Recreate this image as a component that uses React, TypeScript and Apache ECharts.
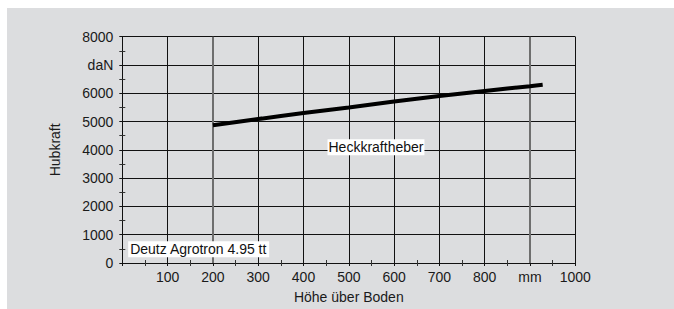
import React, { useEffect, useRef } from "react";
import * as echarts from "echarts";

const heights = [200, 300, 400, 500, 600, 700, 800, 900, 928];
const forces = [4870, 5090, 5300, 5500, 5710, 5905, 6080, 6250, 6300];
const xTickLabels: Record<number, string> = { 0: "", 900: "mm" };
const yTickLabels: Record<number, string> = { 7000: "daN" };
const seriesLabel = { text: "Heckkraftheber", x: 560, y: 4090 };
const modelLabel = { text: "Deutz Agrotron 4.95 tt", x: 13, y: 484 };
const highlightX = [200, 900];

const FONT = "'Liberation Sans', Arial, sans-serif";

export default function App() {
  const ref = useRef<HTMLDivElement>(null);
  useEffect(() => {
    if (!ref.current) return;
    const chart = echarts.init(ref.current, undefined, { renderer: "svg" });
    const axisLine = { show: true, lineStyle: { color: "#111", width: 1 } };
    const tick = { show: true, inside: true, length: 3, lineStyle: { color: "#111" } };
    const minor = { show: true, splitNumber: 2, length: 3, lineStyle: { color: "#333", width: 1 } };
    chart.setOption({
      animation: false,
      backgroundColor: "#dcdddf",
      textStyle: { fontFamily: FONT },
      grid: { left: 115.3, top: 28.7, right: 98.7, bottom: 44.5 },
      xAxis: [
        {
          type: "value",
          min: 0,
          max: 1000,
          interval: 100,
          name: "Höhe über Boden",
          nameLocation: "middle",
          nameGap: 27,
          nameTextStyle: { fontSize: 14, color: "#1a1a1a", fontFamily: FONT },
          axisLine,
          axisTick: tick,
          minorTick: minor,
          splitLine: { show: true, lineStyle: { color: "#111", width: 1 } },
          axisLabel: {
            fontSize: 14,
            color: "#1a1a1a",
            margin: 7,
            fontFamily: FONT,
            formatter: (v: number) => (v in xTickLabels ? xTickLabels[v] : String(v)),
          },
        },
        {
          type: "value",
          position: "top",
          min: 0,
          max: 1000,
          interval: 100,
          axisLine,
          axisTick: tick,
          minorTick: minor,
          splitLine: { show: false },
          axisLabel: { show: false },
        },
      ],
      yAxis: [
        {
          type: "value",
          min: 0,
          max: 8000,
          interval: 1000,
          name: "Hubkraft",
          nameLocation: "middle",
          nameGap: 60,
          nameRotate: 90,
          nameTextStyle: { fontSize: 14, color: "#1a1a1a", fontFamily: FONT },
          axisLine,
          axisTick: tick,
          minorTick: minor,
          splitLine: { show: true, lineStyle: { color: "#111", width: 1 } },
          axisLabel: {
            fontSize: 14,
            color: "#1a1a1a",
            margin: 9,
            fontFamily: FONT,
            formatter: (v: number) => (v in yTickLabels ? yTickLabels[v] : String(v)),
          },
        },
        {
          type: "value",
          position: "right",
          min: 0,
          max: 8000,
          interval: 1000,
          axisLine,
          axisTick: tick,
          minorTick: minor,
          splitLine: { show: false },
          axisLabel: { show: false },
        },
      ],
      series: [
        {
          type: "line",
          data: heights.map((h, i) => [h, forces[i]]),
          showSymbol: false,
          symbol: "none",
          smooth: 0.2,
          lineStyle: { color: "#000", width: 4, cap: "butt" },
          z: 5,
          markLine: {
            silent: true,
            symbol: "none",
            label: { show: false },
            lineStyle: { color: "#6e6e6e", width: 2, type: "solid" },
            data: highlightX.map((x) => ({ xAxis: x })),
            z: 3,
          },
          markPoint: {
            silent: true,
            symbol: "circle",
            symbolSize: 0,
            z: 10,
            data: [
              {
                coord: [seriesLabel.x, seriesLabel.y],
                label: {
                  show: true,
                  position: "inside",
                  formatter: seriesLabel.text,
                  backgroundColor: "#fff",
                  padding: [1, 1, 1, 1],
                  fontSize: 14,
                  color: "#111",
                  fontFamily: FONT,
                },
              },
              {
                coord: [modelLabel.x, modelLabel.y],
                label: {
                  show: true,
                  position: "right",
                  distance: 0,
                  formatter: modelLabel.text,
                  backgroundColor: "#fff",
                  padding: [1, 2, 1, 2],
                  fontSize: 14,
                  color: "#111",
                  fontFamily: FONT,
                },
              },
            ],
          },
        },
      ],
    });
    return () => chart.dispose();
  }, []);
  return (
    <div
      ref={ref}
      style={{ position: "fixed", left: 7, top: 8, width: 667, height: 301 }}
    />
  );
}
